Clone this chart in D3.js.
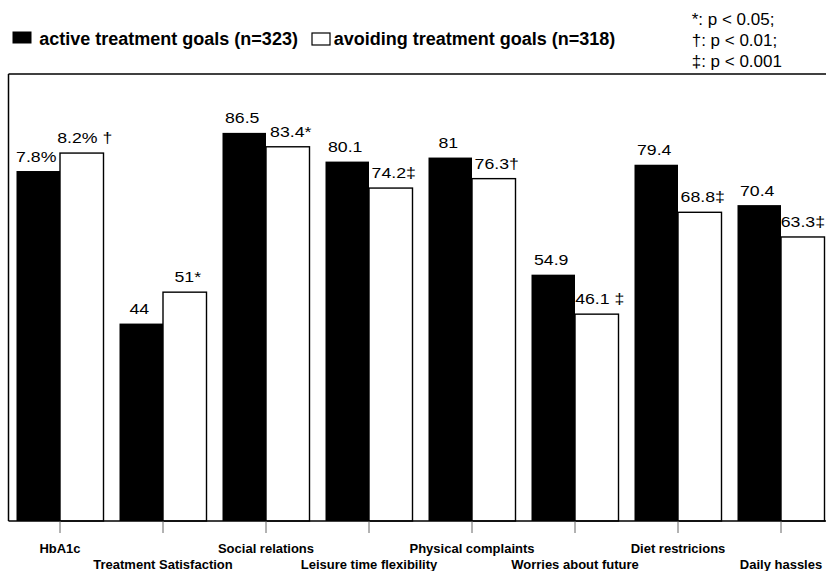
<!DOCTYPE html>
<html>
<head>
<meta charset="utf-8">
<script src="https://cdn.jsdelivr.net/npm/d3@7/dist/d3.min.js"></script>
<style>
  html, body { margin: 0; padding: 0; background: #fff; }
  svg { display: block; font-family: "Liberation Sans", Arial, Helvetica, sans-serif; }
</style>
</head>
<body>
<svg id="chart" width="826" height="571"></svg>
<script>
// ---- data ----
const categories = ["HbA1c", "Treatment Satisfaction", "Social relations", "Leisure time flexibility",
                    "Physical complaints", "Worries about future", "Diet restricions", "Daily hassles"];
// HbA1c is drawn on a x10 scale (7.8% -> 78)
const activeValues   = [78, 44, 86.5, 80.1, 81, 54.9, 79.4, 70.4];
const avoidingValues = [82, 51, 83.4, 74.2, 76.3, 46.1, 68.8, 63.3];
const activeLabels   = ["7.8%", "44", "86.5", "80.1", "81", "54.9", "79.4", "70.4"];
const avoidingLabels = ["8.2% \u2020", "51*", "83.4*", "74.2\u2021", "76.3\u2020", "46.1 \u2021", "68.8\u2021", "63.3\u2021"];
const seriesNames = ["active treatment goals (n=323)", "avoiding treatment goals (n=318)"];
const noteLines = ["*: p < 0.05;", "\u2020: p < 0.01;", "\u2021: p < 0.001"];

// ---- layout ----
const W = 826;
const svg = d3.select("#chart");
const left = 8.5, groupW = 103, baseY = 521, topY = 74;
const x = d3.scaleBand().domain(categories).range([left, left + groupW * categories.length]).padding(0);
const y = d3.scaleLinear().domain([0, 100]).range([baseY, baseY - 448.7]);
const barW = 43.5;
const center = c => x(c) + x.bandwidth() / 2;

// frame
svg.append("line").attr("x1", 8.5).attr("x2", W).attr("y1", topY).attr("y2", topY)
  .attr("stroke", "#000").attr("stroke-width", 1.5);
svg.append("line").attr("x1", 8.5).attr("x2", 8.5).attr("y1", topY).attr("y2", baseY)
  .attr("stroke", "#000").attr("stroke-width", 1.5);

// bars
const g = svg.append("g");
categories.forEach((c, i) => {
  g.append("rect").attr("x", center(c) - barW).attr("width", barW)
    .attr("y", y(activeValues[i])).attr("height", baseY - y(activeValues[i]))
    .attr("fill", "#000");
  g.append("rect").attr("x", center(c)).attr("width", barW)
    .attr("y", y(avoidingValues[i])).attr("height", baseY - y(avoidingValues[i]))
    .attr("fill", "#fff").attr("stroke", "#000").attr("stroke-width", 1.4);
});

// value labels (slightly wide face, as in the reference)
const sx = 1.18;
const labelStyle = sel => sel.attr("font-size", 15).attr("text-anchor", "middle").attr("fill", "#000");
categories.forEach((c, i) => {
  svg.append("text").call(labelStyle)
    .attr("transform", `translate(${center(c) - barW / 2 - 2},${y(avoidingValues[i]) === null ? 0 : y(activeValues[i]) - 9.5}) scale(${sx},1)`)
    .text(activeLabels[i]);
  const t = svg.append("text").call(labelStyle).text(avoidingLabels[i]);
  let cx = center(c) + barW / 2 + 3;
  const half = t.node().getComputedTextLength() * sx / 2;
  if (cx + half > W - 1) cx = W - 1 - half;
  t.attr("transform", `translate(${cx},${y(avoidingValues[i]) - 10}) scale(${sx},1)`);
});

// x axis
svg.append("line").attr("x1", 8.5).attr("x2", W).attr("y1", baseY).attr("y2", baseY)
  .attr("stroke", "#000").attr("stroke-width", 1.6);
const axis = d3.axisBottom(x).tickSize(12).tickFormat("");
const ax = svg.append("g").attr("transform", `translate(0,${baseY})`).call(axis);
ax.select(".domain").remove();
ax.selectAll(".tick line").attr("stroke", "#666").attr("stroke-width", 1);

categories.forEach((c, i) => {
  svg.append("text").attr("x", center(c)).attr("y", i % 2 === 0 ? 552.5 : 569)
    .attr("text-anchor", "middle").attr("font-size", 13).attr("font-weight", "bold")
    .text(c);
});

// legend
svg.append("rect").attr("x", 12.5).attr("y", 31.5).attr("width", 19).attr("height", 12).attr("fill", "#000");
svg.append("text").attr("x", 39.3).attr("y", 45).attr("font-size", 18).attr("font-weight", "bold").text(seriesNames[0]);
svg.append("rect").attr("x", 312).attr("y", 33).attr("width", 18).attr("height", 12)
  .attr("fill", "#fff").attr("stroke", "#000").attr("stroke-width", 1.2);
svg.append("text").attr("x", 333.7).attr("y", 45).attr("font-size", 18).attr("font-weight", "bold").text(seriesNames[1]);

// significance notes
noteLines.forEach((t, i) => {
  svg.append("text").attr("x", 691.7).attr("y", 25 + i * 21).attr("font-size", 17).text(t);
});
</script>
</body>
</html>
